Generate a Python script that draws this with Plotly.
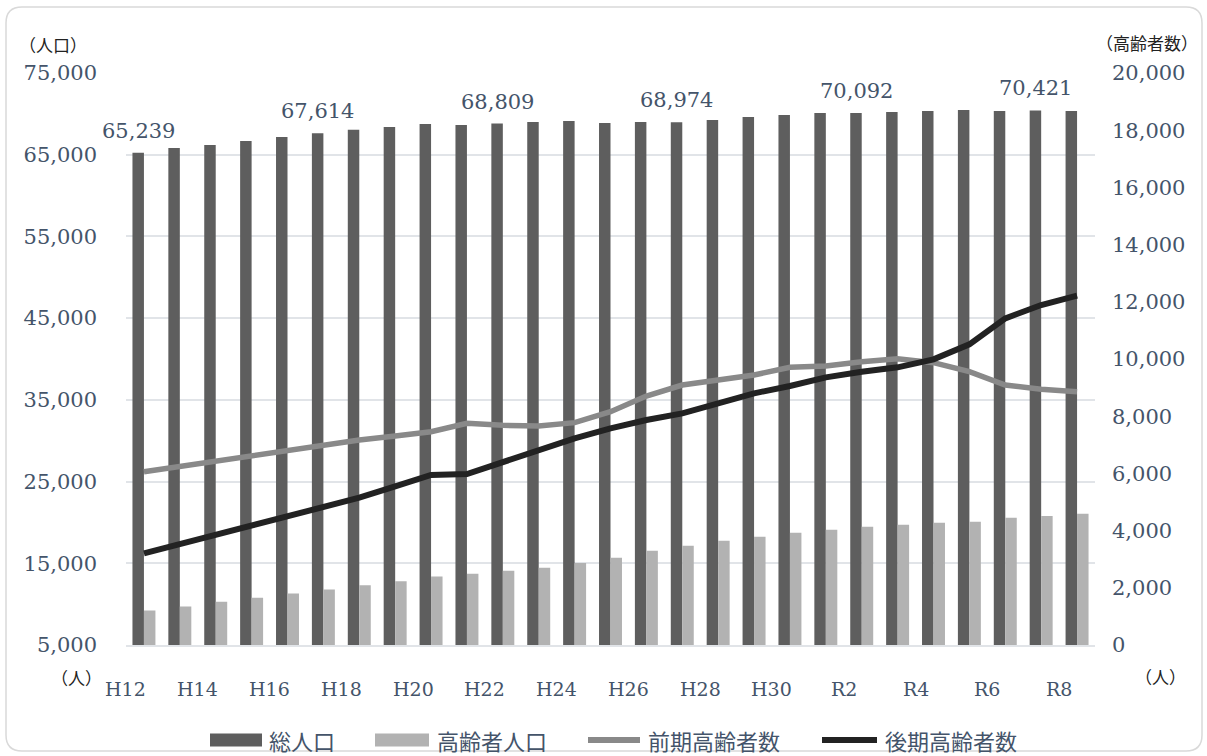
import plotly.graph_objects as go

# ---- data ----
years = ["H12", "H13", "H14", "H15", "H16", "H17", "H18", "H19", "H20", "H21",
         "H22", "H23", "H24", "H25", "H26", "H27", "H28", "H29", "H30", "R1",
         "R2", "R3", "R4", "R5", "R6", "R7", "R8"]
tick_years = ["H12", "H14", "H16", "H18", "H20", "H22", "H24", "H26", "H28", "H30",
              "R2", "R4", "R6", "R8"]
total_pop = [65239, 65830, 66200, 66690, 67180, 67614, 68040, 68400, 68770, 68650,
             68809, 69010, 69140, 68890, 69010, 68974, 69260, 69630, 69870, 70110,
             70092, 70240, 70360, 70480, 70360, 70421, 70360]
elderly_pop = [9230, 9700, 10290, 10790, 11290, 11800, 12300, 12800, 13380, 13720,
               14090, 14450, 15050, 15690, 16520, 17150, 17760, 18250, 18740, 19110,
               19460, 19720, 19950, 20070, 20560, 20800, 21060]
early_elderly = [6060, 6250, 6440, 6630, 6830, 7016, 7168, 7308, 7459, 7751,
                 7680, 7660, 7774, 8158, 8706, 9091, 9266, 9441, 9709, 9755,
                 9907, 10012, 9872, 9557, 9091, 8939, 8858]
late_elderly = [3205, 3525, 3845, 4165, 4485, 4790, 5150, 5545, 5944, 5979,
                6410, 6818, 7226, 7575, 7867, 8100, 8450, 8800, 9056, 9359,
                9557, 9709, 9989, 10513, 11422, 11888, 12214]
label_years = ["H12", "H17", "H22", "H27", "R2", "R7"]
left_ticks = [5000, 15000, 25000, 35000, 45000, 55000, 65000, 75000]
right_ticks = list(range(0, 20001, 2000))
series_names = ["総人口", "高齢者人口", "前期高齢者数", "後期高齢者数"]
series_colors = ["#5e5e5e", "#b2b2b2", "#898989", "#222222"]

SERIF = "DejaVu Serif"
CJK = "Noto Sans CJK JP"
TXT = "#44546a"

fig = go.Figure()
fig.add_bar(x=years, y=total_pop, name=series_names[0],
            marker=dict(color=series_colors[0], line_width=0))
fig.add_bar(x=years, y=elderly_pop, name=series_names[1],
            marker=dict(color=series_colors[1], line_width=0))
fig.add_scatter(x=years, y=early_elderly, name=series_names[2], mode="lines",
                line=dict(color=series_colors[2], width=5.5), yaxis="y2")
fig.add_scatter(x=years, y=late_elderly, name=series_names[3], mode="lines",
                line=dict(color=series_colors[3], width=6), yaxis="y2")

# data labels
for yr in label_years:
    v = total_pop[years.index(yr)]
    fig.add_annotation(x=yr, y=v, xref="x", yref="y", text=f"{v:,}", showarrow=False,
                       yanchor="bottom", xshift=-5.5, yshift=8,
                       font=dict(family=SERIF, size=21, color=TXT))

# category labels placed at each category through the x axis
for yr in tick_years:
    fig.add_annotation(x=yr, y=0, xref="x", yref="paper", text=yr, showarrow=False,
                       xanchor="center", yanchor="middle",
                       xshift=-18, yshift=-44,
                       font=dict(family=SERIF, size=19, color=TXT))

# figure geometry
W, H = 1207, 756
L, R, T, B = 126, 1095, 73, 645


def px(x):
    return (x - L) / (R - L)


def py(y):
    return (B - y) / (B - T)


# unit labels
for txt, x, y in [("（人口）", 53, 44), ("（高齢者数）", 1147, 43),
                  ("（人）", 76, 677), ("（人）", 1160, 676)]:
    fig.add_annotation(x=px(x), y=py(y), xref="paper", yref="paper", text=txt,
                       showarrow=False, xanchor="center", yanchor="middle",
                       font=dict(family=CJK, size=17, color="#222222"))

# custom legend (wide swatches as in the original)
legend_items = [(210, 262, 267), (375, 429, 435), (588, 640, 646), (822, 877, 883)]
ly = 740
for k, (a, b, t) in enumerate(legend_items):
    if k < 2:
        fig.add_shape(type="rect", xref="paper", yref="paper",
                      x0=px(a), x1=px(b), y0=py(ly - 6.5), y1=py(ly + 6.5),
                      fillcolor=series_colors[k], line_width=0)
    else:
        fig.add_shape(type="line", xref="paper", yref="paper",
                      x0=px(a), x1=px(b), y0=py(ly), y1=py(ly),
                      line=dict(color=series_colors[k], width=6))
    fig.add_annotation(x=px(t), y=py(ly), xref="paper", yref="paper",
                       text=series_names[k], showarrow=False,
                       xanchor="left", yanchor="middle",
                       font=dict(family=CJK, size=22, color=TXT))

# rounded outer border
x0, x1, y0, y1, r = 6, 1202, 7, 751, 16
path = (f"M {px(x0 + r)},{py(y0)} L {px(x1 - r)},{py(y0)} "
        f"Q {px(x1)},{py(y0)} {px(x1)},{py(y0 + r)} L {px(x1)},{py(y1 - r)} "
        f"Q {px(x1)},{py(y1)} {px(x1 - r)},{py(y1)} L {px(x0 + r)},{py(y1)} "
        f"Q {px(x0)},{py(y1)} {px(x0)},{py(y1 - r)} L {px(x0)},{py(y0 + r)} "
        f"Q {px(x0)},{py(y0)} {px(x0 + r)},{py(y0)} Z")
fig.add_shape(type="path", path=path, xref="paper", yref="paper",
              line=dict(color="#d9d9d9", width=1.5), layer="below")

fig.update_layout(
    width=W, height=H,
    margin=dict(l=L, r=W - R, t=T, b=H - B, autoexpand=False),
    paper_bgcolor="white", plot_bgcolor="white",
    barmode="group", bargap=0.36, bargroupgap=0,
    showlegend=False,
    xaxis=dict(type="category", range=[-0.5, len(years) - 0.5],
               showticklabels=False, ticks="", showgrid=False, automargin=False,
               showline=True, linecolor="#e1e4e8", linewidth=1.5),
    yaxis=dict(range=[5000, 75000], tickvals=left_ticks, tickformat=",d",
               showgrid=True, gridcolor="#e1e4e8", gridwidth=1.5, zeroline=False,
               ticks="", ticklabelstandoff=28, automargin=False,
               tickfont=dict(family=SERIF, size=21, color=TXT)),
    yaxis2=dict(range=[0, 20000], tickvals=right_ticks, tickformat=",d",
                overlaying="y", side="right", showgrid=False, zeroline=False,
                ticks="", ticklabelstandoff=16, automargin=False,
                tickfont=dict(family=SERIF, size=21, color=TXT)),
)

fig.write_html("out.html", config={"displayModeBar": False},
               post_script="document.body.style.margin='0';"
                           "document.body.style.overflow='hidden';")
